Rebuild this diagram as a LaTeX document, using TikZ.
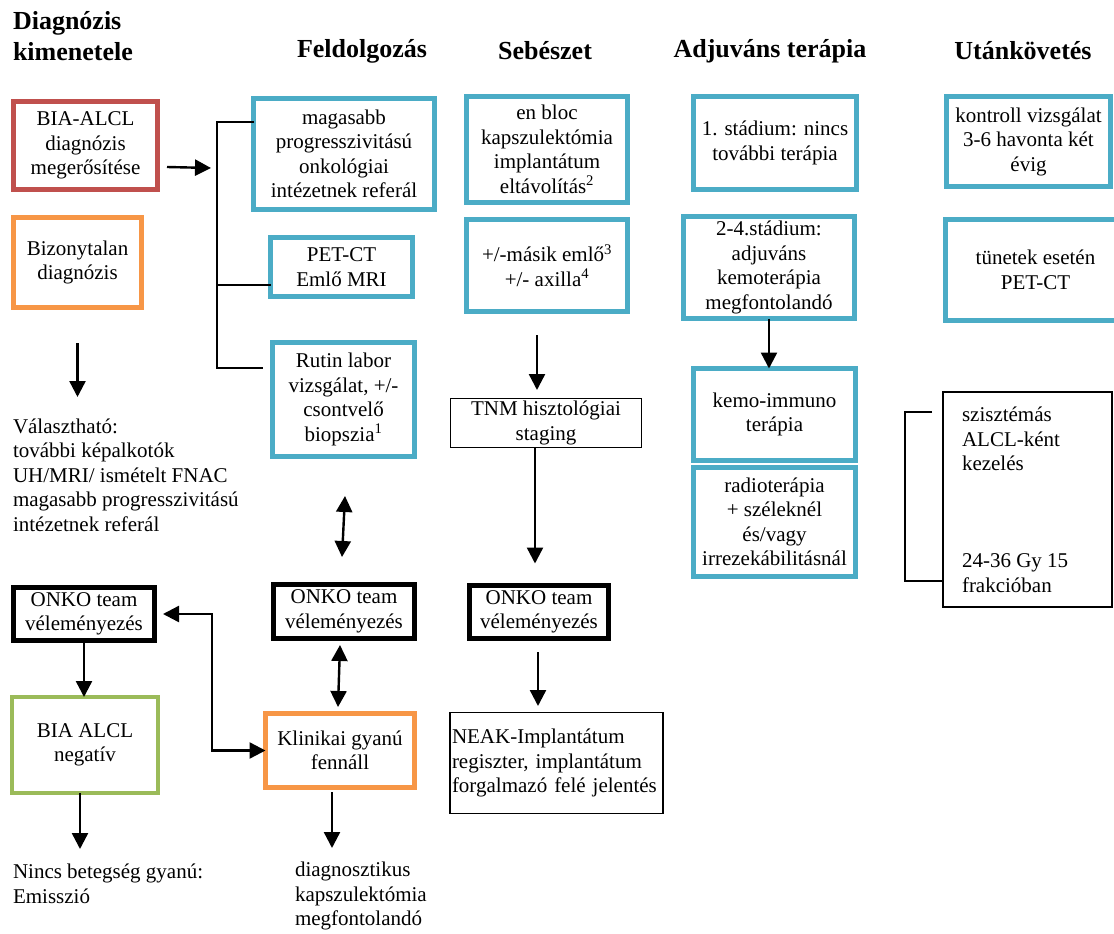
\documentclass[tikz,border=0pt]{standalone}
\usepackage{fontspec}
\setmainfont{Liberation Serif}
\usetikzlibrary{arrows.meta}

\definecolor{boxred}{HTML}{C0504D}
\definecolor{boxorange}{HTML}{F79646}
\definecolor{boxblue}{HTML}{4BACC6}
\definecolor{boxgreen}{HTML}{9BBB59}

\begin{document}
\begin{tikzpicture}[x=1pt,y=-1pt,>={Triangle[length=16pt,width=16pt]},
    font=\fontsize{21}{24.5}\selectfont,
    every node/.style={inner sep=0pt,outer sep=0pt,align=center},
    sz/.style 2 args={minimum width=#1pt,minimum height=#2pt},
    cbox/.style={draw=#1,line width=5pt},
    bluebox/.style={cbox=boxblue},
    onko/.style={draw,line width=5pt},
    thinbox/.style={draw,line width=1.8pt},
    head/.style={font=\fontsize{26}{31}\selectfont\bfseries},
    arr/.style={->,line width=2.4pt},
    darr/.style={<->,line width=2.4pt},
    brk/.style={line width=1.8pt}]
    \useasboundingbox (0,0) rectangle (1114,934);

    % headings
    \node[head,anchor=west,align=left] (hdiag) at (13,36) {Diagnózis\\kimenetele};
    \node[head] (hfeld) at (362,51) {Feldolgozás};
    \node[head] (hseb) at (545,51) {Sebészet};
    \node[head] (hadj) at (770,51) {Adjuváns terápia};
    \node[head] (hutan) at (1023,51) {Utánkövetés};

    % diagnozis kimenetele
    \node[cbox=boxred,sz={144}{88}] (bia) at (85.5,145.5) {BIA-ALCL\\diagnózis\\megerősítése};
    \node[cbox=boxorange,sz={128}{90}] (biz) at (77.5,262.5) {Bizonytalan\\diagnózis};
    \node[anchor=west,align=left] (valt) at (13,475) {Választható:\\további képalkotók\\UH/MRI/ ismételt FNAC\\magasabb progresszivitású\\intézetnek referál};
    \node[onko,sz={141}{53}] (onko1) at (84,614) {ONKO team\\véleményezés};
    \node[cbox=boxgreen,line width=4.5pt,sz={146}{96}] (neg) at (85,745) {BIA ALCL\\negatív};
    \node[anchor=west,align=left] (nincs) at (13,884) {Nincs betegség gyanú:\\Emisszió};

    % feldolgozas
    \node[bluebox,sz={181}{111}] (mag) at (344,154) {magasabb\\progresszivitású\\onkológiai\\intézetnek referál};
    \node[bluebox,sz={142}{59}] (pet) at (341.5,267) {PET-CT\\Emlő MRI};
    \node[bluebox,sz={142}{114}] (rut) at (343.5,399.5) {Rutin labor\\vizsgálat, +/-\\csontvelő\\biopszia\textsuperscript{1}};
    \node[onko,sz={141}{54}] (onko2) at (344,611.5) {ONKO team\\véleményezés};
    \node[cbox=boxorange,sz={149}{74}] (klin) at (340,750.5) {Klinikai gyanú\\fennáll};
    \node[anchor=west,align=left] (diag) at (295,896) {diagnosztikus\\kapszulektómia\\megfontolandó};

    % sebeszet
    \node[bluebox,sz={161}{106}] (enbloc) at (547,149.5) {en bloc\\kapszulektómia\\implantátum\\eltávolítás\textsuperscript{2}};
    \node[bluebox,sz={161}{92}] (masik) at (547,265.5) {+/-másik emlő\textsuperscript{3}\\+/- axilla\textsuperscript{4}};
    \node[thinbox,sz={191}{49}] (tnm) at (546,423) {TNM hisztológiai\\staging};
    \node[onko,sz={139}{53}] (onko3) at (539,612) {ONKO team\\véleményezés};
    \node[thinbox,sz={213}{101},text width=209pt,align=left] (neak) at (556.5,763) {NEAK-Implantátum\\regiszter, implantátum\\forgalmazó felé jelentés};

    % adjuvans terapia
    \node[bluebox,sz={162.5}{93}] (st1) at (775,143) {1. stádium: nincs\\további terápia};
    \node[bluebox,sz={171}{102}] (st24) at (769,267.5) {2-4.stádium:\\adjuváns\\kemoterápia\\megfontolandó};
    \node[bluebox,sz={162}{92}] (kemo) at (774.5,414.5) {kemo-immuno\\terápia};
    \node[bluebox,sz={162}{109}] (radio) at (774.5,522) {radioterápia\\+ széleknél\\és/vagy\\irrezekábilitásnál};

    % utankovetes
    \node[bluebox,sz={164}{90}] (kontr) at (1028.5,141.5) {kontroll vizsgálat\\3-6 havonta két\\évig};
    \node[bluebox,sz={180}{101}] (tun) at (1035.5,270) {tünetek esetén\\PET-CT};
    \node[thinbox,sz={169}{215},anchor=north west] (sys) at (943,392) {};
    \node[anchor=north west,align=left] (systxt) at (962,407) {szisztémás\\ALCL-ként\\kezelés\\[72.5pt]24-36 Gy 15\\frakcióban};

    % brackets
    \coordinate (brtop) at (217,122);
    \coordinate (brmid) at (218,285);
    \coordinate (brbot) at (217,368);
    \coordinate (brend) at (263,368);
    \coordinate (brin) at (211,168);
    \draw[brk] (mag.west |- brtop) -- (brtop) -- (brbot) -- (brend);
    \draw[brk] (brmid) -- (pet.west |- brmid);
    \coordinate (rbtop) at (905,412);
    \coordinate (rbend) at (932,412);
    \coordinate (rbbot) at (905,581);
    \draw[brk] (rbend) -- (rbtop) -- (rbbot) -- (sys.west |- rbbot);

    % arrows
    \draw[arr] ([xshift=9.5pt,yshift=-21.5pt]bia.east) -- (brin);
    \draw[arr] ([yshift=-35.5pt]biz.south) -- ([yshift=-89.5pt]biz.south);
    \draw[arr] (onko1.south) -- (onko1.south |- neg.north);
    \draw[arr] ([xshift=-5pt]neg.south) -- ([xshift=-5pt,yshift=-56pt]neg.south);
    \coordinate (elb) at (212,680);
    \draw[darr] ([xshift=8.5pt]onko1.east) -| (elb) |- (klin.west);
    \draw[darr] ([xshift=1.5pt,yshift=-39.5pt]rut.south) -- ([xshift=-2pt,yshift=27.5pt]onko2.north);
    \draw[darr] ([xshift=-4pt,yshift=-6.5pt]onko2.south) -- ([xshift=-2pt,yshift=6.5pt]klin.north);
    \draw[arr] ([xshift=-8pt,yshift=-4.5pt]klin.south) -- ([xshift=-8pt,yshift=-60.5pt]klin.south);
    \draw[arr] ([xshift=-10pt,yshift=-23.5pt]masik.south) -- ([xshift=-9pt,yshift=8.5pt]tnm.north);
    \draw[arr] ([xshift=-11pt]tnm.south) -- ([xshift=-4pt,yshift=22pt]onko3.north);
    \draw[arr] ([xshift=-1pt,yshift=-13.5pt]onko3.south) -- ([xshift=-18.5pt,yshift=6.5pt]neak.north);
    \draw[arr] (st24.south) -- (st24.south |- kemo.north);
\end{tikzpicture}
\end{document}
